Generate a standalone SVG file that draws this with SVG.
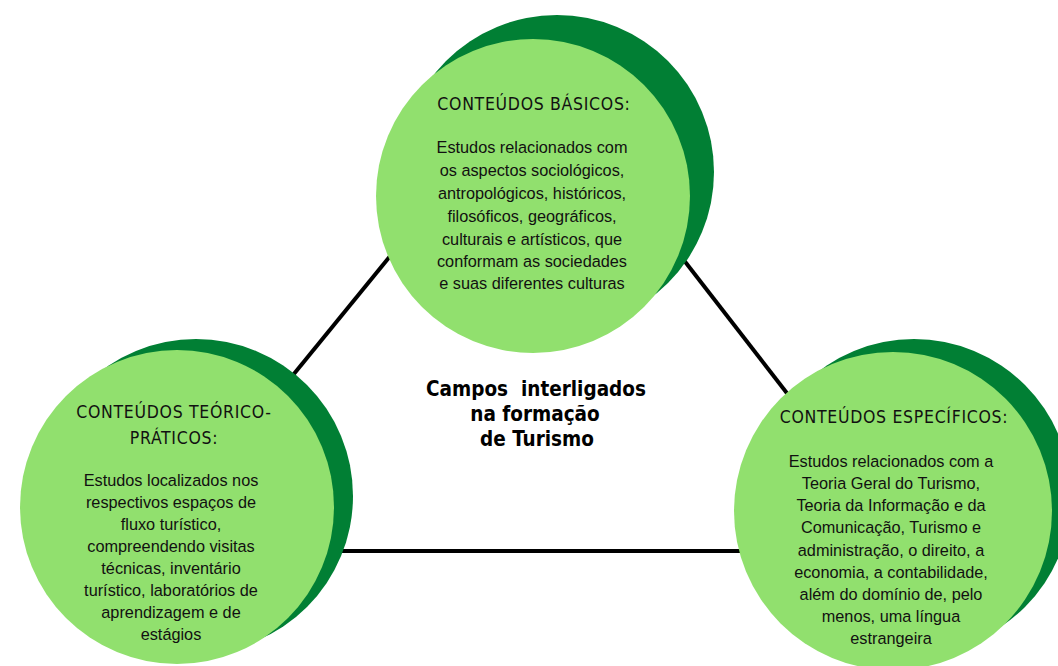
<svg xmlns="http://www.w3.org/2000/svg" width="1058" height="666" viewBox="0 0 1058 666">
<style>
.shadow{fill:#017f34}
.disc{fill:#91e06e}
.hd{font-family:"DejaVu Sans Condensed","DejaVu Sans",sans-serif;font-size:17.5px;letter-spacing:0.7px;fill:#111;text-anchor:middle}
.bd{font-family:"Liberation Sans",Arial,sans-serif;font-size:16.3px;fill:#111;text-anchor:middle}
.ct{font-family:"DejaVu Sans Condensed","DejaVu Sans",sans-serif;font-weight:bold;font-size:20.5px;fill:#000;text-anchor:middle;white-space:pre}
.ln{stroke:#000;stroke-width:4;fill:none}
</style>
<rect width="1058" height="666" fill="#fff"/>
<g id="connectors">
<line class="ln" x1="280" y1="391" x2="400" y2="244"/>
<line class="ln" x1="676" y1="250" x2="800" y2="410"/>
<line class="ln" x1="330" y1="551" x2="745" y2="551"/>
</g>
<g id="center-label">
<text class="ct" x="536" y="396" xml:space="preserve">Campos  interligados</text>
<text class="ct" x="535" y="421">na formação</text>
<text class="ct" x="537" y="446">de Turismo</text>
</g>
<g id="node-basicos">
<circle class="shadow" cx="557" cy="172" r="157"/>
<circle class="disc" cx="533" cy="196" r="157"/>
<text class="hd" x="534" y="110">CONTEÚDOS BÁSICOS:</text>
<text class="bd" x="532" y="153">Estudos relacionados com</text>
<text class="bd" x="532" y="176">os aspectos sociológicos,</text>
<text class="bd" x="532" y="199">antropológicos, históricos,</text>
<text class="bd" x="532" y="222">filosóficos, geográficos,</text>
<text class="bd" x="532" y="245">culturais e artísticos, que</text>
<text class="bd" x="532" y="267">conformam as sociedades</text>
<text class="bd" x="532" y="289">e suas diferentes culturas</text>
</g>
<g id="node-teorico-praticos">
<circle class="shadow" cx="196" cy="496" r="157"/>
<circle class="disc" cx="177" cy="507" r="157"/>
<text class="hd" x="174" y="418">CONTEÚDOS TEÓRICO-</text>
<text class="hd" x="174" y="444">PRÁTICOS:</text>
<text class="bd" x="171" y="486">Estudos localizados nos</text>
<text class="bd" x="171" y="508">respectivos espaços de</text>
<text class="bd" x="171" y="530">fluxo turístico,</text>
<text class="bd" x="171" y="552">compreendendo visitas</text>
<text class="bd" x="171" y="574">técnicas, inventário</text>
<text class="bd" x="171" y="596">turístico, laboratórios de</text>
<text class="bd" x="171" y="618">aprendizagem e de</text>
<text class="bd" x="171" y="640">estágios</text>
</g>
<g id="node-especificos">
<circle class="shadow" cx="914" cy="496" r="157"/>
<circle class="disc" cx="893" cy="511" r="159"/>
<text class="hd" x="894" y="423">CONTEÚDOS ESPECÍFICOS:</text>
<text class="bd" x="891" y="467">Estudos relacionados com a</text>
<text class="bd" x="891" y="489">Teoria Geral do Turismo,</text>
<text class="bd" x="891" y="511">Teoria da Informação e da</text>
<text class="bd" x="891" y="533">Comunicação, Turismo e</text>
<text class="bd" x="891" y="556">administração, o direito, a</text>
<text class="bd" x="891" y="578">economia, a contabilidade,</text>
<text class="bd" x="891" y="600">além do domínio de, pelo</text>
<text class="bd" x="891" y="622">menos, uma língua</text>
<text class="bd" x="891" y="644">estrangeira</text>
</g>
</svg>
